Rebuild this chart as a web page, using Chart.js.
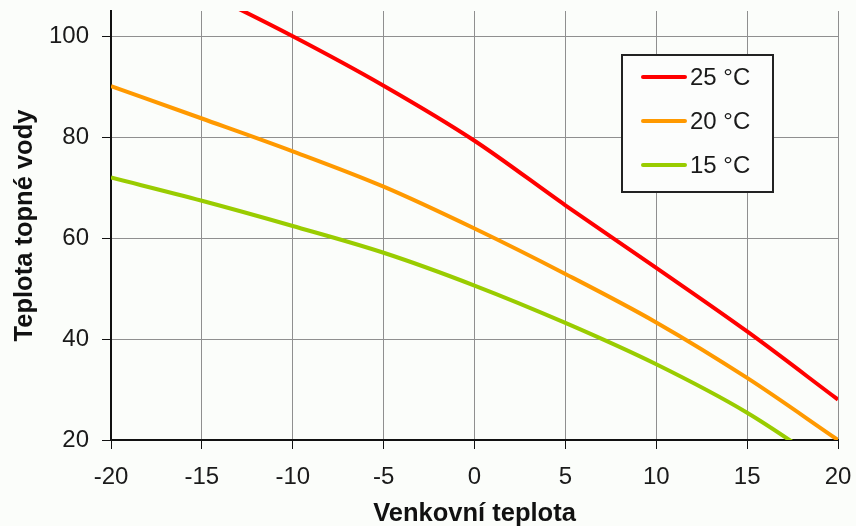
<!DOCTYPE html>
<html>
<head>
<meta charset="utf-8">
<script src="https://cdn.jsdelivr.net/npm/chart.js@4/dist/chart.umd.min.js"></script>
<style>
    html, body { margin: 0; padding: 0; background: #fbfdfa; }
    #wrap { width: 856px; height: 526px; }
</style>
</head>
<body>
<div id="wrap"><canvas id="teploty"></canvas></div>
<script>
// venkovní teplota (osa x)
const venkovni = [-20, -15, -10, -5, 0, 5, 10, 15, 20];
// teplota topné vody pro jednotlivé vnitřní teploty
const voda25 = [117.5, 109, 100, 90.2, 79.3, 66.5, 54.1, 41.5, 28];
const voda20 = [90.1, 83.7, 77.2, 70.2, 61.9, 52.9, 43.3, 32.3, 20];
const voda15 = [72, 67.4, 62.4, 57.1, 50.6, 43.2, 35, 25.4, 13.5];
const popisky = ['25 °C', '20 °C', '15 °C'];
const barvy = ['#ff0000', '#ff9900', '#99cc00'];
const yTicks = [20, 40, 60, 80, 100];

const pismo = "'Liberation Sans', Arial, sans-serif";

{
    const ctx = document.getElementById('teploty').getContext('2d');

    const body = (hodnoty) => venkovni.map((x, i) => ({ x: x, y: hodnoty[i] }));

    const legendaVGrafu = {
    // legenda v rámečku uvnitř grafu
        id: 'legendaVGrafu',
        afterDraw(chart) {
            const { ctx, chartArea } = chart;
            const x0 = chartArea.right - 216;
            const y0 = chartArea.top + 44;
            ctx.save();
            ctx.fillStyle = '#fcfdfc';
            ctx.fillRect(x0, y0, 151, 137);
            ctx.strokeStyle = '#222';
            ctx.lineWidth = 2;
            ctx.strokeRect(x0, y0, 151, 137);
            chart.data.datasets.forEach((ds, i) => {
                const y = y0 + 22 + i * 44;
                ctx.strokeStyle = ds.borderColor;
                ctx.lineWidth = 4;
                ctx.lineCap = 'round';
                ctx.beginPath();
                ctx.moveTo(x0 + 21, y);
                ctx.lineTo(x0 + 63, y);
                ctx.stroke();
                ctx.fillStyle = '#1a1a1a';
                ctx.font = '24px ' + pismo;
                ctx.textBaseline = 'middle';
                ctx.fillText(ds.label, x0 + 68, y + 1);
            });
            ctx.restore();
        }
    };

    const dataset = (hodnoty, i) => ({
        label: popisky[i],
        data: body(hodnoty),
        borderColor: barvy[i],
        backgroundColor: barvy[i],
        borderWidth: 4,
        pointRadius: 0,
        fill: false,
        cubicInterpolationMode: 'monotone',
    });

    new Chart(ctx, {
        type: 'line',
        data: {
            datasets: [dataset(voda25, 0), dataset(voda20, 1), dataset(voda15, 2)],
        },
        options: {
            animation: false,
            responsive: true,
            maintainAspectRatio: false,
            layout: {
                padding: { top: 11, right: 18, left: 0, bottom: 0 },
            },
            plugins: {
                legend: { display: false },
                tooltip: { enabled: false },
            },
            scales: {
                x: {
                    type: 'linear',
                    min: -20,
                    max: 20,
                    afterFit: (scale) => {
                        scale.height = 86;
                        scale.paddingLeft = 0;
                        scale.paddingRight = 0;
                    },
                    ticks: {
                        stepSize: 5,
                        color: '#1a1a1a',
                        padding: 14,
                        font: { family: pismo, size: 24 },
                    },
                    grid: {
                        color: '#8f8f8f',
                        tickColor: '#111',
                        tickLength: 9,
                    },
                    border: { color: '#111', width: 2 },
                    title: {
                        display: true,
                        text: 'Venkovní teplota',
                        color: '#111',
                        font: { family: pismo, size: 25.5, weight: 'bold' },
                        padding: { top: 0, bottom: -3 },
                    },
                },
                y: {
                    min: 20,
                    max: 105,
                    afterFit: (scale) => {
                        scale.width = 111;
                        scale.paddingTop = 0;
                        scale.paddingBottom = 0;
                    },
                    afterBuildTicks: (scale) => {
                        scale.ticks = yTicks.map(v => ({ value: v }));
                    },
                    ticks: {
                        color: '#1a1a1a',
                        padding: 13,
                        font: { family: pismo, size: 24 },
                    },
                    grid: {
                        color: '#8f8f8f',
                        tickColor: '#111',
                        tickLength: 9,
                    },
                    border: { color: '#111', width: 2 },
                    title: {
                        display: true,
                        text: 'Teplota topné vody',
                        color: '#111',
                        font: { family: pismo, size: 25.5, weight: 'bold' },
                        padding: { top: 10, bottom: 0 },
                    },
                },
            },
        },
        plugins: [legendaVGrafu],
    });
}
</script>
</body>
</html>
